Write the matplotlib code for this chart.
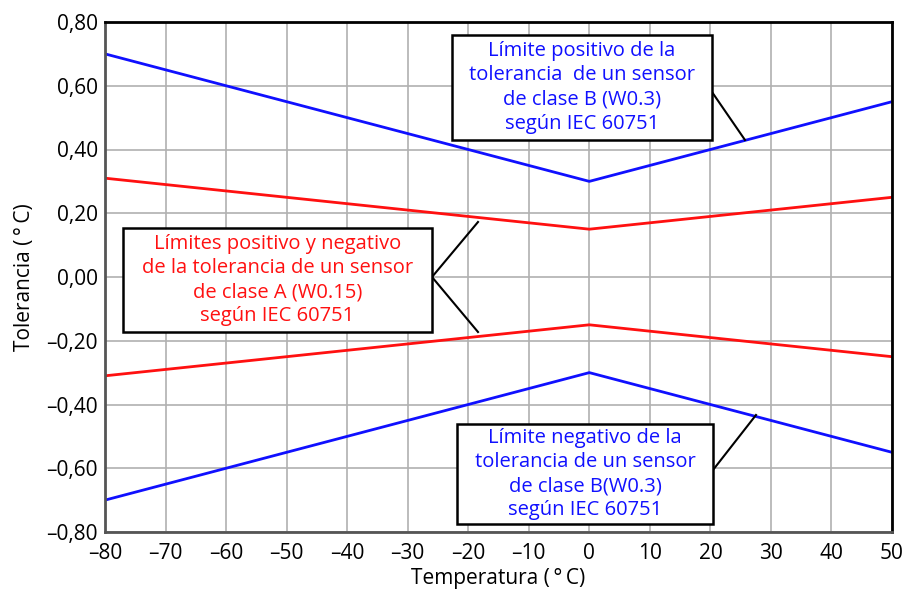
import numpy as np
import matplotlib.pyplot as plt

plt.rcParams["font.family"] = ["Open Sans", "DejaVu Sans"]

temps = [-80, -70, -60, -50, -40, -30, -20, -10, 0, 10, 20, 30, 40, 50]
class_b = [0.70, 0.65, 0.60, 0.55, 0.50, 0.45, 0.40, 0.35, 0.30,
           0.35, 0.40, 0.45, 0.50, 0.55]
class_a = [0.31, 0.29, 0.27, 0.25, 0.23, 0.21, 0.19, 0.17, 0.15,
           0.17, 0.19, 0.21, 0.23, 0.25]

x_ticks = list(range(-80, 51, 10))
y_ticks = [-0.8, -0.6, -0.4, -0.2, 0.0, 0.2, 0.4, 0.6, 0.8]

BLUE = "#1010ff"
RED = "#ff1010"

fig = plt.figure(figsize=(9.03, 5.90), dpi=100)
ax = fig.add_axes([105 / 903, 58 / 590, 787 / 903, 510 / 590])

b = np.array(class_b)
a = np.array(class_a)
ax.plot(temps, b, color=BLUE, lw=2)
ax.plot(temps, -b, color=BLUE, lw=2)
ax.plot(temps, a, color=RED, lw=2)
ax.plot(temps, -a, color=RED, lw=2)

ax.set_xlim(-80, 50)
ax.set_ylim(-0.8, 0.8)
ax.set_xticks(x_ticks)
ax.set_xticklabels([str(t).replace("-", "\u2013") for t in x_ticks])
ax.set_yticks(y_ticks)
ax.set_yticklabels([f"{v:.2f}".replace(".", ",").replace("-", "\u2013")
                    for v in y_ticks])
ax.tick_params(length=0, labelsize=15)
ax.tick_params(axis="x", pad=8)
ax.tick_params(axis="y", pad=5)
ax.grid(True, color="#b0b0b0", lw=1.2)
ax.set_axisbelow(True)
for side, s in ax.spines.items():
    s.set_linewidth(2)
    s.set_color("black" if side in ("top", "right") else "#555555")

ax.set_xlabel("Temperatura (\u2009°\u2009C)", fontsize=15, labelpad=3)
ax.set_ylabel("Tolerancia (\u2009°\u2009C)", fontsize=15, labelpad=8)


def box(x0, y0, x1, y1, text, color):
    # box corners given in pixel coordinates of the original picture
    fx0, fx1 = x0 / 903, x1 / 903
    fy0, fy1 = 1 - y1 / 590, 1 - y0 / 590
    rect = plt.Rectangle((fx0, fy0), fx1 - fx0, fy1 - fy0,
                         transform=fig.transFigure, facecolor="white",
                         edgecolor="black", lw=1.8, zorder=5)
    fig.add_artist(rect)
    fig.text((fx0 + fx1) / 2, (fy0 + fy1) / 2, text, color=color,
             ha="center", va="center", fontsize=14.5, linespacing=1.28,
             zorder=6)


def leader(pts):
    xs = [p[0] / 903 for p in pts]
    ys = [1 - p[1] / 590 for p in pts]
    fig.add_artist(plt.Line2D(xs, ys, color="black", lw=1.5, zorder=4))


box(452, 35, 712, 140,
    "Límite positivo de la\ntolerancia  de un sensor\nde clase B (W0.3)\nsegún IEC 60751",
    BLUE)
leader([(712, 92), (745, 140)])

box(123, 228, 432, 332,
    "Límites positivo y negativo\nde la tolerancia de un sensor\nde clase A (W0.15)\nsegún IEC 60751",
    RED)
leader([(478, 222), (432, 277), (478, 332)])

box(457, 424, 713, 524,
    "Límite negativo de la\ntolerancia de un sensor\nde clase B(W0.3)\nsegún IEC 60751",
    BLUE)
leader([(713, 470), (756, 415)])

fig.savefig("out.png", dpi=100, facecolor="white")
